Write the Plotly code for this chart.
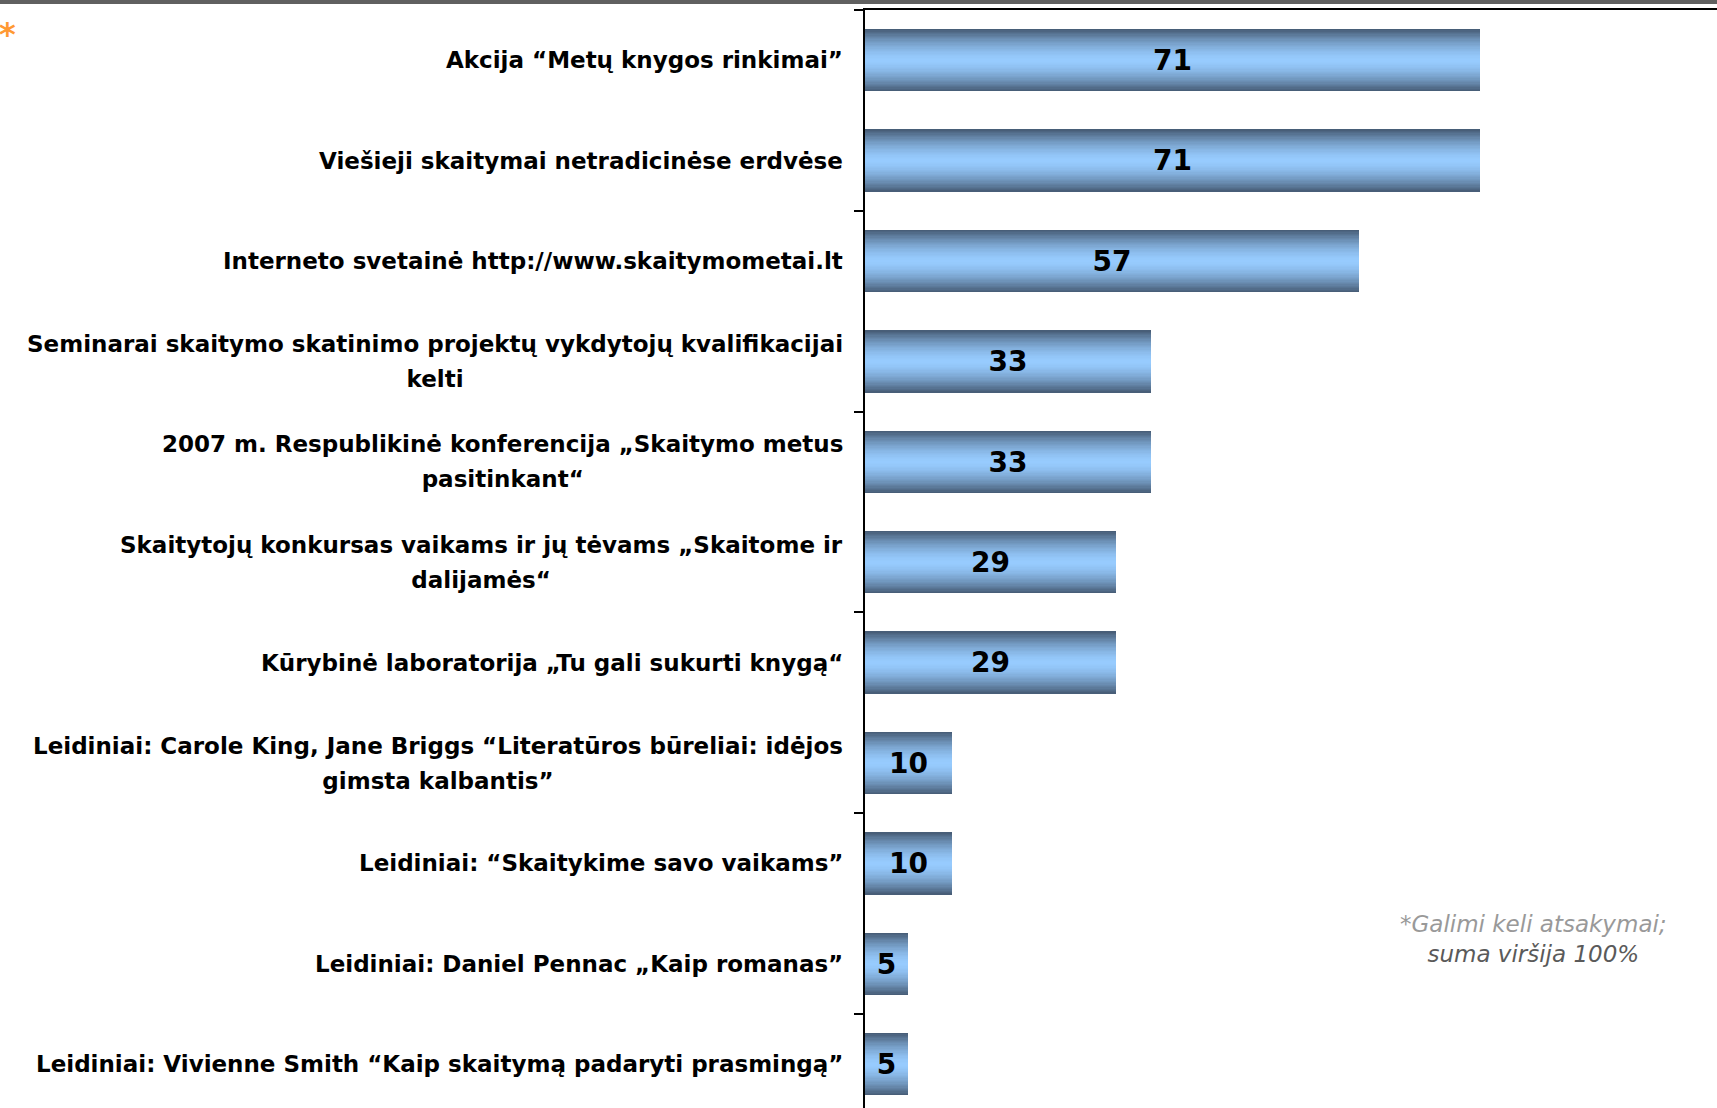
import plotly.graph_objects as go

# data
labels = [
    "Akcija “Metų knygos rinkimai”",
    "Viešieji skaitymai netradicinėse erdvėse",
    "Interneto svetainė http://www.skaitymometai.lt",
    "Seminarai skaitymo skatinimo projektų vykdytojų kvalifikacijai<br>kelti",
    "2007 m. Respublikinė konferencija „Skaitymo metus<br>pasitinkant“",
    "Skaitytojų konkursas vaikams ir jų tėvams „Skaitome ir<br>dalijamės“",
    "Kūrybinė laboratorija „Tu gali sukurti knygą“",
    "Leidiniai: Carole King, Jane Briggs “Literatūros būreliai: idėjos<br>gimsta kalbantis”",
    "Leidiniai: “Skaitykime savo vaikams”",
    "Leidiniai: Daniel Pennac „Kaip romanas”",
    "Leidiniai: Vivienne Smith “Kaip skaitymą padaryti prasmingą”",
]
values = [71, 71, 57, 33, 33, 29, 29, 10, 10, 5, 5]
note_line1 = "*Galimi keli atsakymai;"
note_line2 = "suma viršija 100%"

W, H = 1717, 1108
L, T = 865, 10
PLOT_W = W - L
PX_PER_UNIT = 8.668
PITCH = 100.4
BAR_W = 0.62

DARK = (69, 90, 115)
LIGHT = (151, 203, 254)
FONT = "DejaVu Sans"

pos = list(range(len(values)))


def mix(t):
    # t: 0 at bar centre, 1 at bar edge
    f = t ** 1.6
    return "rgb(%d,%d,%d)" % tuple(round(l + (d - l) * f) for l, d in zip(LIGHT, DARK))


def small(text, size=23):
    # smaller glyphs inside a bigger line box -> wider line spacing
    return "<br>".join(f"<span style='font-size:{size}px'>{part}</span>"
                       for part in text.split("<br>"))


fig = go.Figure()

# stacked narrowing bars fake the vertical gradient fill
n_layers = 24
for k in range(n_layers):
    w = BAR_W * (1 - k / n_layers)
    t = (1 - (k + 0.5) / n_layers)
    fig.add_trace(go.Bar(x=values, y=pos, orientation="h", width=w,
                         marker=dict(color=mix(t), line=dict(width=0)),
                         hoverinfo="skip", showlegend=False))

# value labels on a transparent full-width bar
fig.add_trace(go.Bar(x=values, y=pos, orientation="h", width=BAR_W,
                     marker=dict(color="rgba(0,0,0,0)", line=dict(width=0)),
                     text=[str(v) for v in values], textposition="inside",
                     insidetextanchor="middle", textangle=0,
                     textfont=dict(family=FONT, size=28, color="black", weight="bold"),
                     showlegend=False, hovertemplate="%{x}<extra></extra>"))

# category labels
for p, lab in zip(pos, labels):
    fig.add_annotation(x=0, xref="paper", y=p, yref="y", text=small(lab), showarrow=False,
                       xanchor="right", yanchor="middle", align="center", xshift=-20,
                       font=dict(family=FONT, size=27, color="black", weight="bold"))

fig.add_annotation(
    x=(1533 - L) / PLOT_W, xref="paper", y=1 - (939 - T) / (H - T), yref="paper",
    text=f"<span style='color:#999999'>{note_line1}</span><br>"
         f"<span style='color:#5a5a5a'>{note_line2}</span>",
    showarrow=False, xanchor="center", yanchor="middle", align="center",
    font=dict(family=FONT, size=23, style="italic"))

fig.add_annotation(x=-L / PLOT_W, xref="paper", xshift=-3, y=1, yref="paper", yshift=-24,
                   text="*", showarrow=False, xanchor="left", yanchor="middle",
                   font=dict(family=FONT, size=32, color="#ff9933", weight="bold"))

# grey band on the very top edge
fig.add_shape(type="rect", xref="paper", x0=-L / PLOT_W, x1=1, yref="paper",
              ysizemode="pixel", yanchor=1, y0=T - 4, y1=T + 2,
              fillcolor="#606060", line=dict(width=0), layer="above")

n_shown = (H - T) / PITCH
fig.update_layout(
    width=W, height=H, barmode="overlay", bargap=0,
    margin=dict(l=L, r=0, t=T, b=0),
    paper_bgcolor="white", plot_bgcolor="white",
    xaxis=dict(side="top", range=[0, PLOT_W / PX_PER_UNIT], showline=True, linewidth=2,
               linecolor="black", showgrid=False, zeroline=False, showticklabels=False,
               ticks=""),
    yaxis=dict(range=[n_shown - 0.5, -0.5], showline=True, linewidth=2, linecolor="black",
               showgrid=False, zeroline=False, showticklabels=False,
               tickmode="array", tickvals=[-0.5, 1.5, 3.5, 5.5, 7.5, 9.5],
               ticks="outside", ticklen=9, tickwidth=2, tickcolor="black"),
)

fig.write_html("out.html", config={"displayModeBar": False},
               post_script="document.body.style.margin='0';")
